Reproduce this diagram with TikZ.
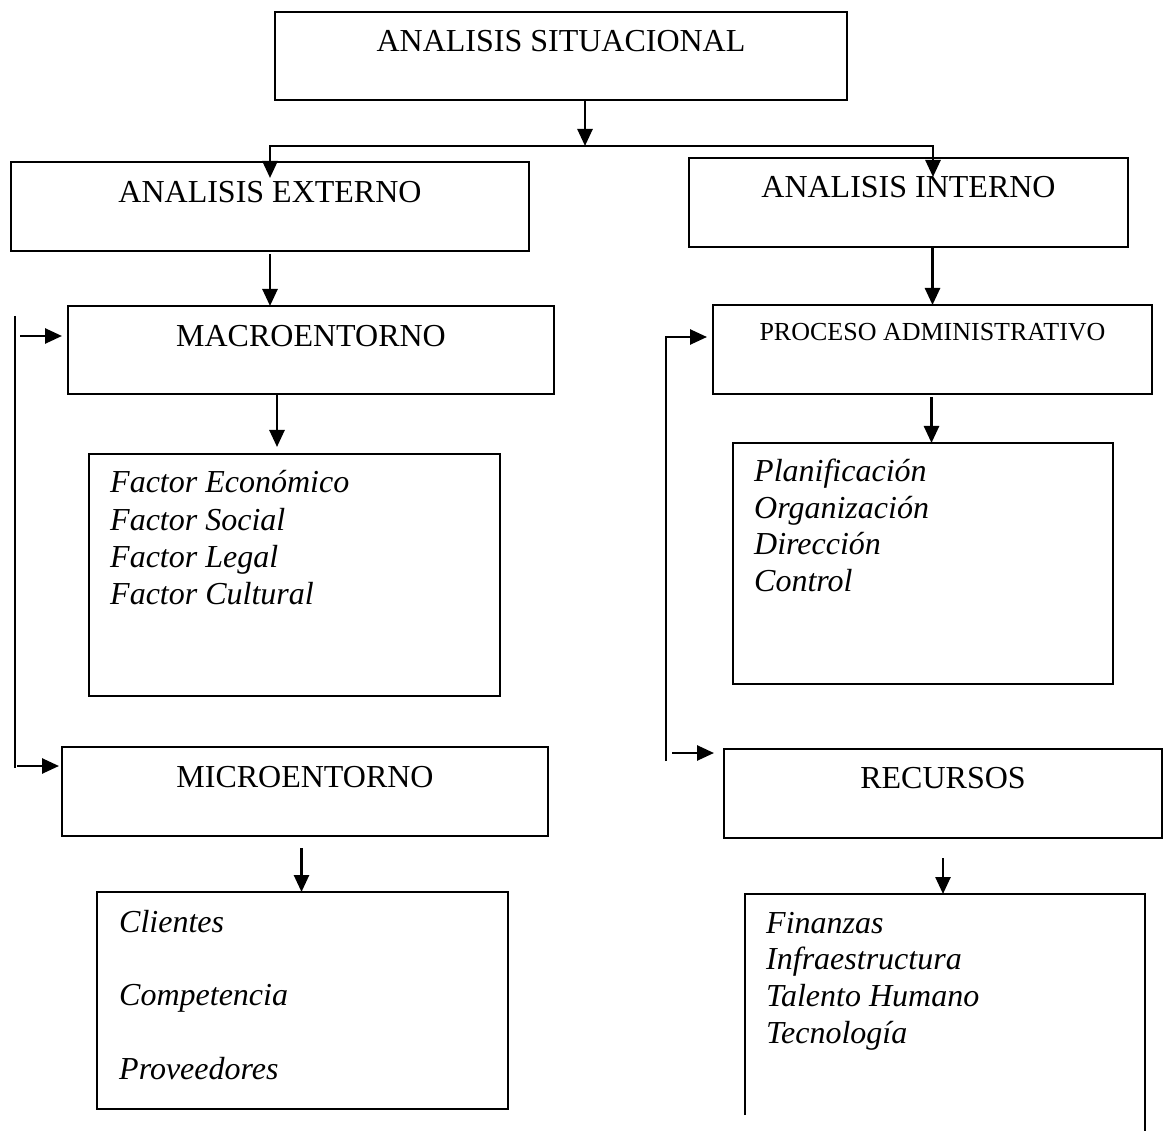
\documentclass[tikz,border=0pt]{standalone}
\usepackage{fontspec}
\setmainfont{Liberation Serif}
\usetikzlibrary{arrows.meta,calc}
\begin{document}
\begin{tikzpicture}[x=1pt,y=-1pt,
  box/.style={draw,line width=2.2pt,rectangle,anchor=north west,inner sep=0pt,outer sep=0pt},
  ttl/.style={font=\fontsize{32}{38}\selectfont,anchor=base,inner sep=0pt},
  ttls/.style={font=\fontsize{26}{31}\selectfont,anchor=base,inner sep=0pt},
  itm/.style={font=\fontsize{32}{38}\selectfont\itshape,anchor=base west,inner sep=0pt},
  arr/.style={line width=2.6pt,-{Triangle[length=17pt,width=15pt]}},
  ln/.style={line width=2.2pt}]
\useasboundingbox (0,0) rectangle (1165,1131);

% boxes
\node[box,minimum width=572pt,minimum height=88pt] (sit) at (275,12) {};
\node[box,minimum width=518pt,minimum height=89pt] (ext) at (11,162) {};
\node[box,minimum width=439pt,minimum height=89pt] (int) at (689,158) {};
\node[box,minimum width=486pt,minimum height=88pt] (mac) at (68,306) {};
\node[box,minimum width=439pt,minimum height=89pt] (pro) at (713,305) {};
\node[box,minimum width=411pt,minimum height=242pt] (fac) at (89,454) {};
\node[box,minimum width=380pt,minimum height=241pt] (pla) at (733,443) {};
\node[box,minimum width=486pt,minimum height=89pt] (mic) at (62,747) {};
\node[box,minimum width=438pt,minimum height=89pt] (rec) at (724,749) {};
\node[box,minimum width=411pt,minimum height=217pt] (cli) at (97,892) {};
\node[box,draw=none,minimum width=400pt,minimum height=221pt] (fin) at (745,894) {};
\draw[ln] (fin.south west) -- (fin.north west) -- (fin.north east) -- ($(fin.south east)+(0,16)$);

% titles
\node[ttl] (tsit) at ($(sit.north)+(0,40)$) {ANALISIS SITUACIONAL};
\node[ttl] (text) at ($(ext.north)+(0,41)$) {ANALISIS EXTERNO};
\node[ttl] (tint) at ($(int.north)+(0,40)$) {ANALISIS INTERNO};
\node[ttl] (tmac) at ($(mac.north)+(0,41)$) {MACROENTORNO};
\node[ttls] (tpro) at ($(pro.north)+(0,36)$) {PROCESO ADMINISTRATIVO};
\node[ttl] (tmic) at ($(mic.north)+(0,40)$) {MICROENTORNO};
\node[ttl] (trec) at ($(rec.north)+(0,39)$) {RECURSOS};

% item lists
\foreach \t [count=\i] in {Factor Económico,Factor Social,Factor Legal,Factor Cultural}
  \node[itm] (fac\i) at ($(fac.north west)+(21,{39+37.3*(\i-1)})$) {\t};
\foreach \t [count=\i] in {Planificación,Organización,Dirección,Control}
  \node[itm] (pla\i) at ($(pla.north west)+(21,{39+36.4*(\i-1)})$) {\t};
\foreach \t [count=\i] in {Clientes,Competencia,Proveedores}
  \node[itm] (cli\i) at ($(cli.north west)+(22,{40+73.5*(\i-1)})$) {\t};
\foreach \t [count=\i] in {Finanzas,Infraestructura,Talento Humano,Tecnología}
  \node[itm] (fin\i) at ($(fin.north west)+(21,{39+36.7*(\i-1)})$) {\t};

% top branching
\coordinate (jn) at (585,146);
\draw[arr] (sit.south -| jn) -- (jn);
\draw[arr] (jn) -| ($(ext.north)+(0,16)$);
\draw[arr] (jn) -| ($(int.north)+(24.5,19)$);

% downward links
\draw[arr] ($(ext.south)+(0,3)$) -- (ext.south |- mac.north);
\draw[arr] ($(mac.south)+(-34,1)$) -- ($(mac.south |- fac.north)+(-34,-7)$);
\draw[arr] (pro.north |- int.south) -- (pro.north);
\draw[arr] ($(pro.south)+(-1,3)$) -- ($(pro.south |- pla.north)+(-1,0)$);
\draw[arr] ($(cli.north |- mic.south)+(-1,12)$) -- ($(cli.north)+(-1,0)$);
\draw[arr] ($(rec.south)+(0,20)$) -- (rec.south |- fin.north);

% left side feed
\coordinate (lt) at (15,316);
\coordinate (lb) at (15,768);
\draw[ln] (lt) -- (lb);
\draw[arr] ($(mac.north west)+(-48,30)$) -- ($(mac.north west)+(-6,30)$);
\draw[arr] ($(mic.north west)+(-45,19)$) -- ($(mic.north west)+(-3,19)$);

% right side feed
\coordinate (rb) at (666,761);
\draw[arr] (rb) |- ($(pro.north west)+(-6,32)$);
\draw[arr] ($(rec.north west)+(-52,4)$) -- ($(rec.north west)+(-10,4)$);
\end{tikzpicture}
\end{document}
